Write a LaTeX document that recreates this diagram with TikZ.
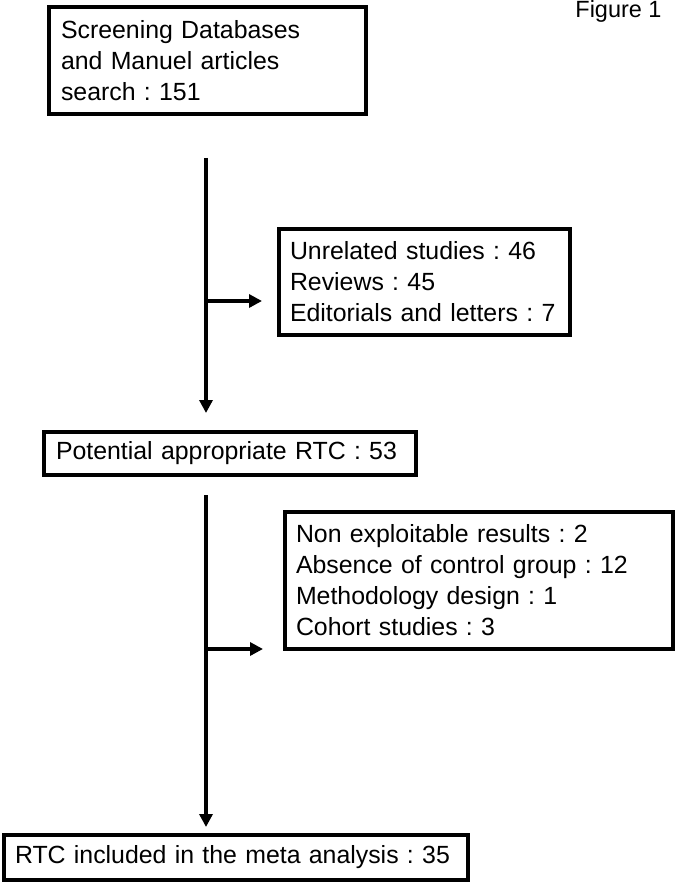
\documentclass[tikz,border=0pt]{standalone}
\usepackage{fontspec}
\setmainfont{Liberation Sans}
\usetikzlibrary{arrows.meta}
\frenchspacing

\tikzset{every picture/.style={line width=0.75pt}}
\tikzset{
  flowbox/.style={draw, line width=3pt, align=left, inner ysep=0pt, inner xsep=8.25pt,
    font=\fontsize{18.65pt}{23.25pt}\selectfont\frenchspacing},
  flowarrow/.style={line width=2.5pt, -{Triangle[length=9.75pt,width=9.75pt]}}
}

\begin{document}
\begin{tikzpicture}[x=0.75pt,y=0.75pt,yscale=-1,xscale=1]
\useasboundingbox (0,0) rectangle (678,888);

%Shape: Rectangle
\node [flowbox, text width=219.75pt, minimum height=80.25pt, inner xsep=9pt] (search) at (207.5,60.5)
  {Screening Databases\\and Manuel articles\\search : 151};
%Shape: Rectangle
\node [flowbox, text width=201.75pt, minimum height=79.5pt] (excluded1) at (424.5,282)
  {Unrelated studies : 46\\Reviews : 45\\Editorials and letters : 7};
%Shape: Rectangle
\node [flowbox, text width=261pt, minimum height=32.25pt, inner xsep=9pt] (potential) at (230,453.5)
  {Potential appropriate RTC : 53};
%Shape: Rectangle
\node [flowbox, text width=274.5pt, minimum height=102.75pt] (excluded2) at (479,580.5)
  {Non exploitable results : 2\\Absence of control group : 12\\Methodology design : 1\\Cohort studies : 3};
%Shape: Rectangle
\node [flowbox, text width=331.5pt, minimum height=33.75pt] (included) at (236,857.5)
  {RTC included in the meta analysis : 35};

% Text Node
\node [anchor=base east, inner sep=0pt, font=\fontsize{17.6pt}{21pt}\selectfont] (figlabel) at (662,18) {Figure 1};

\coordinate (top1) at (206,158);
\coordinate (tip1) at (206,413);
\coordinate (fork1) at (206,301);
\coordinate (end1) at (262,301);
\coordinate (top2) at (206,495);
\coordinate (tip2) at (206,827);
\coordinate (fork2) at (206,649);
\coordinate (end2) at (263,649);

%Straight Lines
\draw [flowarrow] (top1) -- (tip1) ;
%Straight Lines
\draw [flowarrow] (fork1) -- (end1) ;
%Straight Lines
\draw [flowarrow] (top2) -- (tip2) ;
%Straight Lines
\draw [flowarrow] (fork2) -- (end2) ;
\end{tikzpicture}
\end{document}
